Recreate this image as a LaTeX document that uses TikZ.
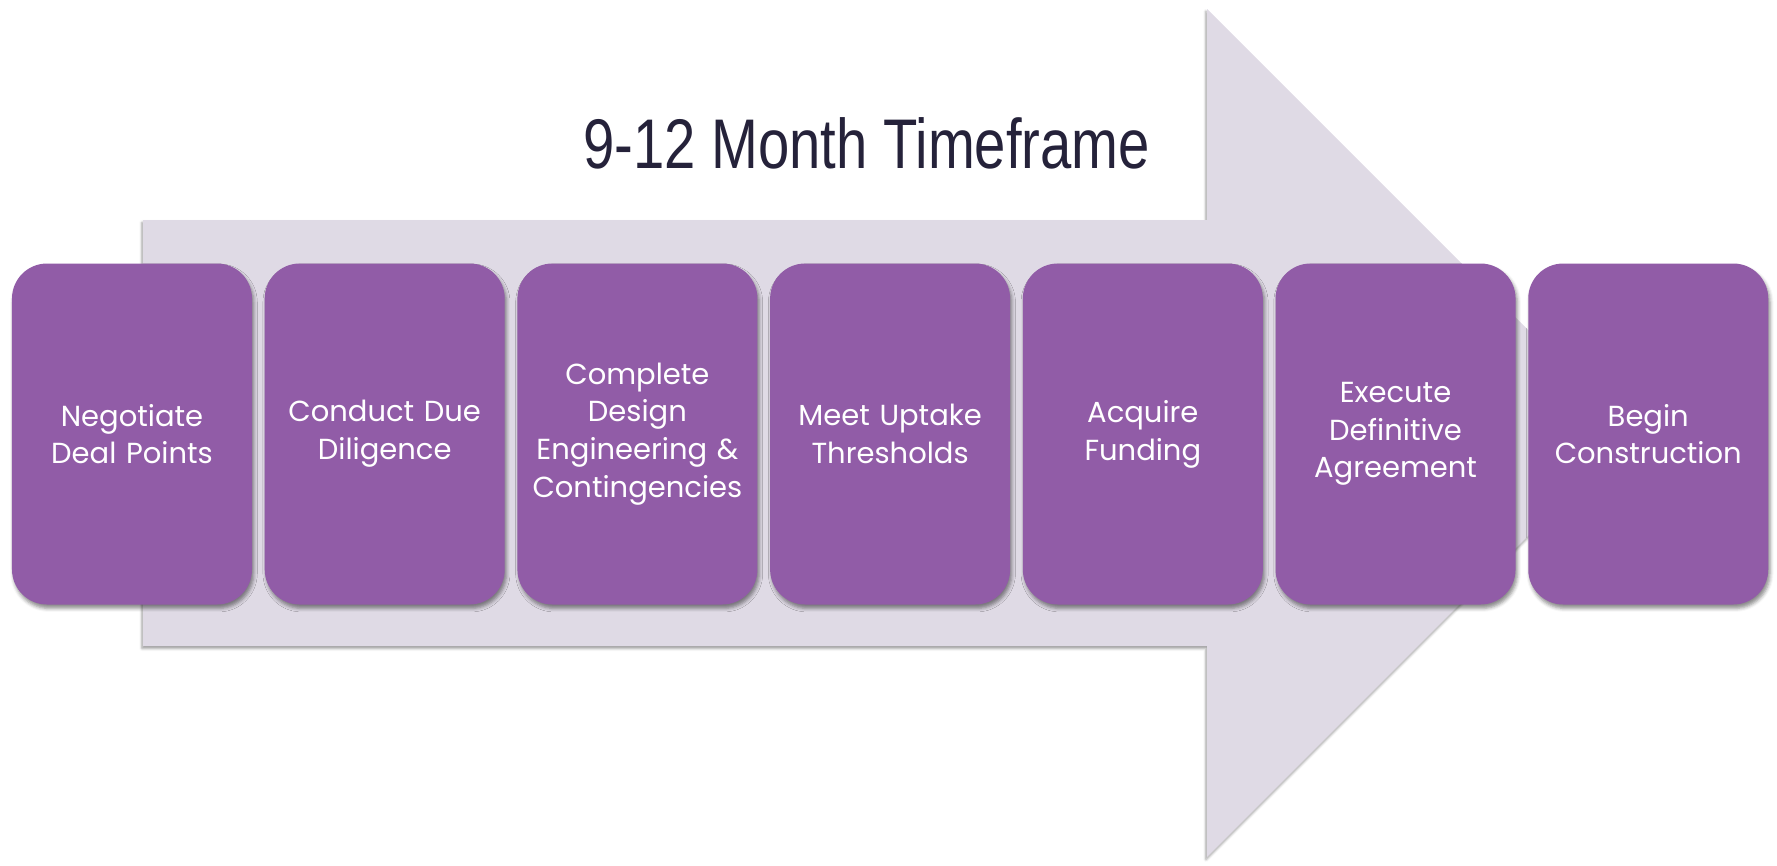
\documentclass[tikz,border=0pt]{standalone}
\usepackage{fontspec}
\usepackage{tikz}
\usetikzlibrary{positioning, shadows.blur}
\newfontfamily\stepfont{Poppins}
\newfontfamily\titlefont[FakeStretch=0.80]{Liberation Sans}
\definecolor{planStep}{HTML}{915CA7}
\definecolor{planArrow}{HTML}{DFDAE5}
\definecolor{planTitle}{HTML}{25223A}

\begin{document}
\begin{tikzpicture}[
    x=0.2mm, y=-0.2mm,
    stepbox/.style={
        fill=planStep,
        text=white,
        rounded corners=0.7cm,
        minimum width=4.8cm,
        minimum height=6.82cm,
        text width=4.4cm,
        align=center,
        font=\stepfont\fontsize{16.5}{21.5}\selectfont,
        blur shadow={shadow xshift=1pt, shadow yshift=-2.2pt,
            shadow blur radius=2pt, shadow opacity=45}
    },
    bigarrow/.style={
        fill=planArrow,
        blur shadow={shadow xshift=-0.6pt, shadow yshift=-1.4pt,
            shadow blur radius=1.5pt, shadow opacity=40}
    },
]
\useasboundingbox (0,0) rectangle (1777,865);

% the wide arrow behind the steps
\path[bigarrow] (143,220) -- (1207,220) -- (1207,9) -- (1631,433)
    -- (1207,857) -- (1207,646) -- (143,646) -- cycle;

\node[anchor=base west, text=planTitle,
      font=\titlefont\fontsize{40}{44}\selectfont] (title) at (577,168)
    {9-12 Month Timeframe};

\node[stepbox] (negotiate) at (132,434) {Negotiate\\Deal Points};
\node[stepbox, right=0.24cm of negotiate] (diligence) {Conduct Due\\Diligence};
\node[stepbox, right=0.24cm of diligence] (design)
    {Complete\\Design\\Engineering \&\\Contingencies};
\node[stepbox, right=0.24cm of design] (uptake) {Meet Uptake\\Thresholds};
\node[stepbox, right=0.24cm of uptake] (funding) {Acquire\\Funding};
\node[stepbox, right=0.24cm of funding] (agreement)
    {Execute\\Definitive\\Agreement};
\node[stepbox, right=0.24cm of agreement] (construction)
    {Begin\\Construction};

\end{tikzpicture}
\end{document}
